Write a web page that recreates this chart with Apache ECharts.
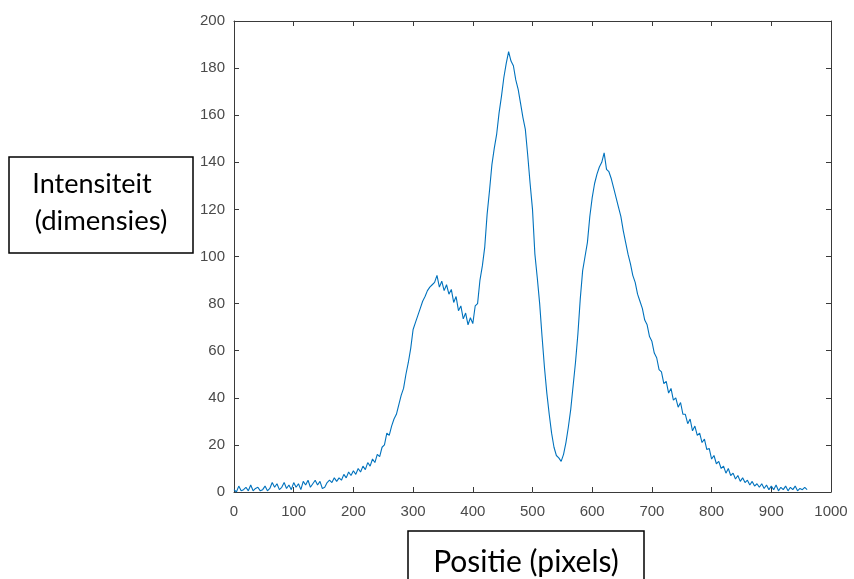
<!DOCTYPE html>
<html>
<head>
<meta charset="utf-8">
<script src="https://cdn.jsdelivr.net/npm/echarts@6/dist/echarts.min.js"></script>
<style>
html,body{margin:0;padding:0;background:#fff;}
#chart{width:854px;height:579px;}
</style>
</head>
<body>
<div id="chart"></div>
<script>
// Sample spacing along the x axis (pixels in the measured profile)
const xStep = 4;
// Intensity values, one per xStep, starting at x = 0
const intensity = [
  1, 0, 2.5, 0.5, 1, 2, 0.5, 3, 0.5, 1.5,
  2, 0.5, 1, 2.5, 0.5, 1.5, 4, 2, 3.5, 1,
  2, 4, 1.5, 3, 1, 4, 2, 3.5, 1, 4.5,
  3, 5, 2, 3.5, 5, 3, 4.5, 1.5, 2, 4,
  5, 4, 6, 4.5, 6, 5, 7.5, 6, 8.5, 7,
  9, 7.5, 10, 8.5, 11, 9.5, 12.5, 11, 14, 12.5,
  16, 15, 19, 20, 25, 24, 28, 31, 33, 37,
  41, 44, 50, 55, 61, 69, 72, 75, 78, 81,
  83, 85.5, 87, 88, 89, 92, 87, 89.5, 85.5, 88,
  84, 86, 80.5, 83, 77, 79, 73.5, 76, 71, 74,
  71.5, 79, 80, 90, 96, 104, 118, 128, 139, 146,
  152, 161, 168, 176, 182, 187, 183, 181, 175, 171,
  165, 159, 154, 143, 131, 120, 101, 91, 80, 66,
  53, 42, 33, 25, 19, 15.5, 14.5, 13, 16, 21,
  27.5, 35, 45, 55, 67, 82, 94, 100, 106, 117,
  125, 131, 135, 138, 140, 144, 137, 136, 133, 129,
  125, 121, 117, 111, 106, 101, 97, 92, 89, 84,
  81, 78, 73, 71, 66, 64, 59, 57, 52, 51,
  46, 47, 42, 44, 39, 40, 36, 38, 33, 33,
  29, 31, 26, 28, 24, 25, 21, 22.5, 18, 18.5,
  14, 15.5, 12, 13, 10, 11, 8, 10, 7, 8,
  5.5, 7, 4.5, 6, 4, 5, 3, 4.5, 2.5, 3.5,
  2, 3.5, 1.5, 3, 1, 2.5, 1, 3, 0.5, 2,
  1, 2.5, 0.5, 2, 1, 2.5, 0.5, 1.5, 1, 2,
  1
];
const xTicks = [0, 100, 200, 300, 400, 500, 600, 700, 800, 900, 1000];
const yTicks = [0, 20, 40, 60, 80, 100, 120, 140, 160, 180, 200];
const yLabelLines = ['Intensiteit', '(dimensies)'];
const xLabelText = 'Positie (pixels)';

const seriesData = intensity.map((v, i) => [i * xStep, v]);

const axisColor = '#3a3a3a';
const labelColor = '#4a4a4a';
const boxFont = 'Lato, "Open Sans", sans-serif';

function axisBase(showLabels, margin) {
  return {
    axisLine: { show: true, onZero: false, lineStyle: { color: axisColor, width: 1 } },
    axisTick: { show: true, inside: true, length: 5, lineStyle: { color: axisColor, width: 1 } },
    axisLabel: { show: showLabels, margin: margin, color: labelColor, fontSize: 15,
      fontFamily: '"Liberation Sans", Arial, sans-serif', formatter: (v) => String(v) },
    splitLine: { show: false }
  };
}

const chart = echarts.init(document.getElementById('chart'), null, { renderer: 'canvas' });
chart.setOption({
  animation: false,
  backgroundColor: '#ffffff',
  grid: { left: 234, right: 23, top: 21, bottom: 87, containLabel: false },
  xAxis: [
    Object.assign(axisBase(true, 12), {
      type: 'value', min: xTicks[0], max: xTicks[xTicks.length - 1], interval: 100, position: 'bottom'
    }),
    Object.assign(axisBase(false, 8), {
      type: 'value', min: xTicks[0], max: xTicks[xTicks.length - 1], interval: 100, position: 'top'
    })
  ],
  yAxis: [
    Object.assign(axisBase(true, 9), {
      type: 'value', min: yTicks[0], max: yTicks[yTicks.length - 1], interval: 20, position: 'left'
    }),
    Object.assign(axisBase(false, 8), {
      type: 'value', min: yTicks[0], max: yTicks[yTicks.length - 1], interval: 20, position: 'right'
    })
  ],
  series: [{
    type: 'line',
    data: seriesData,
    xAxisIndex: 0,
    yAxisIndex: 0,
    showSymbol: false,
    symbol: 'none',
    lineStyle: { color: '#0072BD', width: 1.1 },
    itemStyle: { color: '#0072BD' }
  }],
  graphic: [
    { type: 'rect', shape: { x: 9, y: 157, width: 184, height: 96 },
      style: { fill: '#ffffff', stroke: '#000000', lineWidth: 1.5 }, z: 10 },
    { type: 'text', x: 92, y: 184, z: 11,
      style: { text: yLabelLines[0], fill: '#000', font: '27px ' + boxFont, textAlign: 'center', textVerticalAlign: 'middle' } },
    { type: 'text', x: 101, y: 221, z: 11,
      style: { text: yLabelLines[1], fill: '#000', font: '27.5px ' + boxFont, textAlign: 'center', textVerticalAlign: 'middle' } },
    { type: 'rect', shape: { x: 408, y: 531, width: 236, height: 60 },
      style: { fill: '#ffffff', stroke: '#000000', lineWidth: 1.5 }, z: 10 },
    { type: 'text', x: 526, y: 562, z: 11,
      style: { text: xLabelText, fill: '#000', font: '30px ' + boxFont, textAlign: 'center', textVerticalAlign: 'middle' } }
  ]
});
</script>
</body>
</html>
